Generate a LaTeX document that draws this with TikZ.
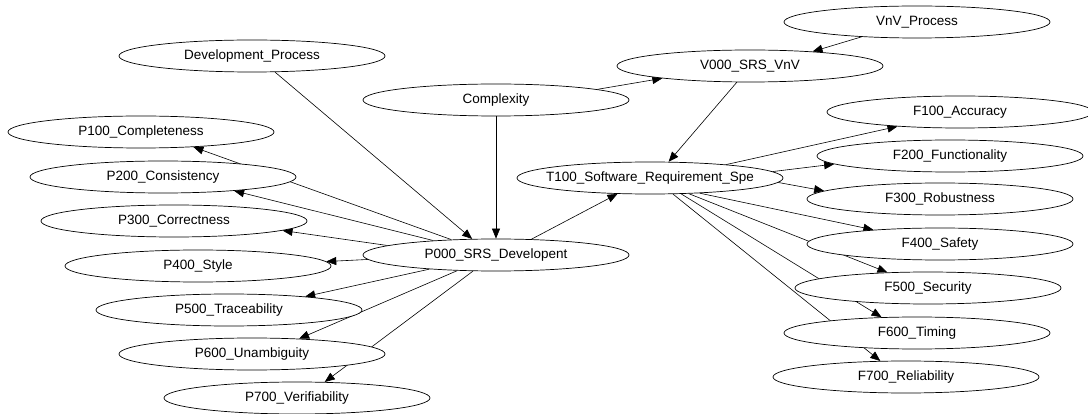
\documentclass[tikz,border=0pt]{standalone}
\usepackage{fontspec}
\setmainfont{Liberation Sans}
\usetikzlibrary{arrows.meta,shapes.geometric}
\pgfdeclarelayer{background}
\pgfsetlayers{background,main}
\newcommand{\lbl}[1]{\makebox[0pt]{#1}}
\tikzset{
  ell/.style={ellipse, draw=black, line width=0.7pt, fill=white, inner sep=0pt,
    minimum width=266pt, minimum height=32pt, font=\fontsize{13.5}{15}\selectfont},
  conn/.style={draw=black, line width=0.6pt, -{Triangle[length=10pt,width=8pt]}}
}
\begin{document}
\begin{tikzpicture}[x=1pt,y=-1pt]
\useasboundingbox (0,0) rectangle (1088,414);
\node[ell] (dev) at (252,56)  {\lbl{Development\_Process}};
\node[ell] (p1)  at (141,132) {\lbl{P100\_Completeness}};
\node[ell] (p2)  at (163,177) {\lbl{P200\_Consistency}};
\node[ell] (p3)  at (174,221) {\lbl{P300\_Correctness}};
\node[ell] (p4)  at (198,266) {\lbl{P400\_Style}};
\node[ell] (p5)  at (229,310) {\lbl{P500\_Traceability}};
\node[ell] (p6)  at (252,354) {\lbl{P600\_Unambiguity}};
\node[ell] (p7)  at (297,398) {\lbl{P700\_Verifiability}};
\node[ell] (cx)  at (496,100) {\lbl{Complexity}};
\node[ell] (p0)  at (496,255) {\lbl{P000\_SRS\_Developent}};
\node[ell] (t1)  at (650,178) {\lbl{T100\_Software\_Requirement\_Spe}};
\node[ell] (v0)  at (750,66)  {\lbl{V000\_SRS\_VnV}};
\node[ell] (vp)  at (917,22)  {\lbl{VnV\_Process}};
\node[ell] (f1)  at (960,112) {\lbl{F100\_Accuracy}};
\node[ell] (f2)  at (950,156) {\lbl{F200\_Functionality}};
\node[ell] (f3)  at (940,199) {\lbl{F300\_Robustness}};
\node[ell] (f4)  at (940,244) {\lbl{F400\_Safety}};
\node[ell] (f5)  at (928,288) {\lbl{F500\_Security}};
\node[ell] (f6)  at (917,333) {\lbl{F600\_Timing}};
\node[ell] (f7)  at (906,377) {\lbl{F700\_Reliability}};
\begin{pgfonlayer}{background}
\draw[conn] (dev.-35.6) -- (p0.146.7);
\draw[conn] (cx.south) -- (p0.north);
\draw[conn] (cx.6.6) -- (v0.-172.8);
\draw[conn] (vp.-165.8) -- (v0.13.9);
\draw[conn] (v0.-129.3) -- (t1.41.4);
\draw[conn] (p0.24.5) -- (t1.-154.8);
\draw[conn] (p0.161.9) -- (p1.-16.9);
\draw[conn] (p0.167.4) -- (p2.-11.2);
\draw[conn] (p0.175.5) -- (p3.-5.5);
\draw[conn] (p0.-178.8) -- (p4.2);
\draw[conn] (p0.-168.8) -- (p5.10.2);
\draw[conn] (p0.-158.6) -- (p6.18.9);
\draw[conn] (p0.-145.6) -- (p7.30.1);
\draw[conn] (t1.10) -- (f1.-167.9);
\draw[conn] (t1.3.3) -- (f2.-176);
\draw[conn] (t1.-2.5) -- (f3.176.3);
\draw[conn] (t1.-17.7) -- (f4.168.6);
\draw[conn] (t1.-22) -- (f5.159.6);
\draw[conn] (t1.-27.5) -- (f6.156.2);
\draw[conn] (t1.-35.6) -- (f7.148.9);
\end{pgfonlayer}
\end{tikzpicture}
\end{document}
